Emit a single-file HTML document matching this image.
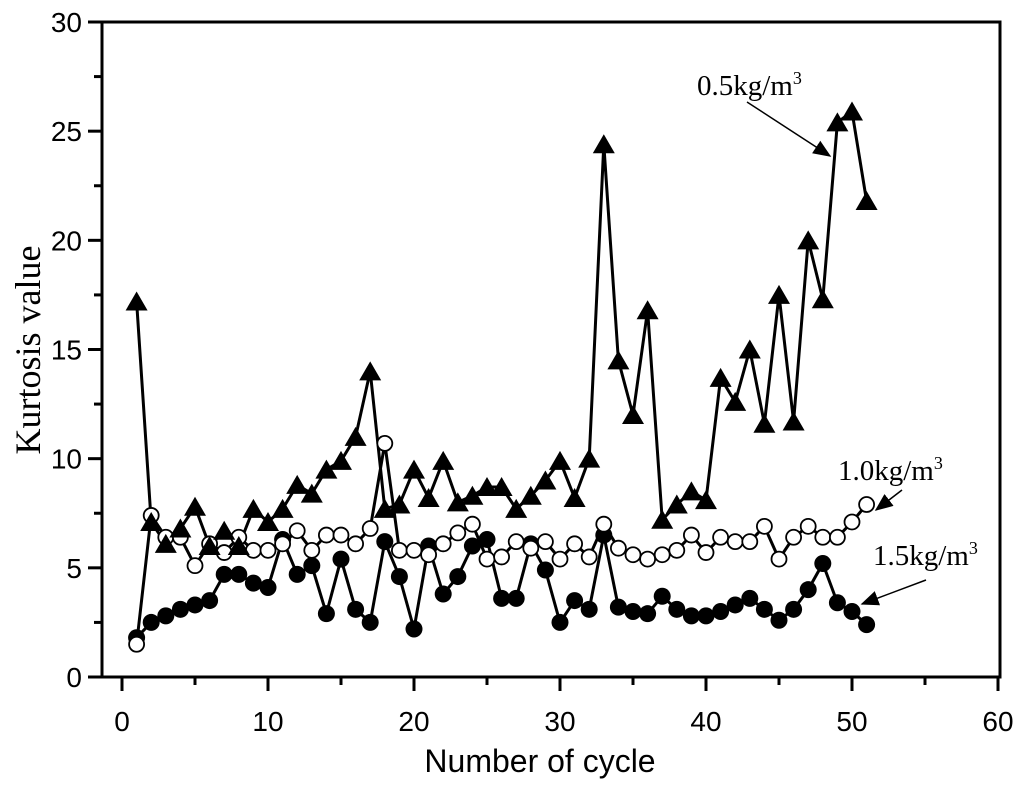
<!DOCTYPE html>
<html><head><meta charset="utf-8"><style>
html,body{margin:0;padding:0;background:#fff;}
svg{display:block;}
</style></head><body>
<svg id="chart" width="1024" height="788" viewBox="0 0 1024 788" xmlns="http://www.w3.org/2000/svg">
<defs><marker id="ah" markerWidth="12" markerHeight="10" refX="11" refY="5" orient="auto"><path d="M0,0 L12,5 L0,10 Z" fill="#000"/></marker></defs>
<g id="axes"></g>
<g id="series"></g>
<text x="540" y="772" text-anchor="middle" font-family="Liberation Sans, sans-serif" font-size="32">Number of cycle</text>
<text transform="translate(40,350) rotate(-90)" text-anchor="middle" font-family="Liberation Serif, serif" font-size="36">Kurtosis value</text>
<text x="697" y="95" font-family="Liberation Serif, serif" font-size="29">0.5kg/m<tspan dy="-11" font-size="18">3</tspan></text>
<text x="838" y="480" font-family="Liberation Serif, serif" font-size="29">1.0kg/m<tspan dy="-11" font-size="18">3</tspan></text>
<text x="873" y="565" font-family="Liberation Serif, serif" font-size="29">1.5kg/m<tspan dy="-11" font-size="18">3</tspan></text>
<line x1="747" y1="102" x2="830" y2="156" stroke="#000" stroke-width="1.5" marker-end="url(#ah)"/>
<line x1="902" y1="490" x2="876" y2="510" stroke="#000" stroke-width="1.5" marker-end="url(#ah)"/>
<line x1="926" y1="580" x2="862" y2="604" stroke="#000" stroke-width="1.5" marker-end="url(#ah)"/>
</svg>
<script>
const cycles = Array.from({length:51},(_,i)=>i+1);
const s05 = [17.2,7.1,6.1,6.8,7.8,6.0,6.7,6.0,7.7,7.1,7.7,8.8,8.4,9.5,9.9,11.0,14.0,7.7,7.9,9.5,8.2,9.9,8.0,8.3,8.7,8.7,7.7,8.3,9.0,9.9,8.2,10.0,24.4,14.5,12.0,16.8,7.2,7.9,8.5,8.1,13.7,12.6,15.0,11.6,17.5,11.7,20.0,17.3,25.4,25.9,21.8];
const s10 = [1.5,7.4,6.4,6.4,5.1,6.1,5.7,6.4,5.8,5.8,6.1,6.7,5.8,6.5,6.5,6.1,6.8,10.7,5.8,5.8,5.6,6.1,6.6,7.0,5.4,5.5,6.2,5.9,6.2,5.4,6.1,5.5,7.0,5.9,5.6,5.4,5.6,5.8,6.5,5.7,6.4,6.2,6.2,6.9,5.4,6.4,6.9,6.4,6.4,7.1,7.9];
const s15 = [1.8,2.5,2.8,3.1,3.3,3.5,4.7,4.7,4.3,4.1,6.3,4.7,5.1,2.9,5.4,3.1,2.5,6.2,4.6,2.2,6.0,3.8,4.6,6.0,6.3,3.6,3.6,6.1,4.9,2.5,3.5,3.1,6.5,3.2,3.0,2.9,3.7,3.1,2.8,2.8,3.0,3.3,3.6,3.1,2.6,3.1,4.0,5.2,3.4,3.0,2.4];
const xTicks = [0,10,20,30,40,50,60];
const yTicks = [0,5,10,15,20,25,30];
const NS='http://www.w3.org/2000/svg';
const L=102,R=1000,T=22,B=677;
const xs=v=>122+v*14.6;
const ys=v=>B-v*(B-T)/30;
function mk(tag,attrs,parent){const e=document.createElementNS(NS,tag);for(const k in attrs)e.setAttribute(k,attrs[k]);parent.appendChild(e);return e;}
const ax=document.getElementById('axes');
const frame=mk('rect',{x:L,y:T,width:R-L,height:B-T,fill:'none',stroke:'#000','stroke-width':3},ax);


for(let v=0;v<=60;v+=5){
  const t=mk('line',{x1:xs(v),x2:xs(v),y1:B,y2:B+(v%10===0?14:8),stroke:'#000','stroke-width':3},ax);
  
  
}
xTicks.forEach(v=>{const t=mk('text',{x:xs(v),y:B+54,'text-anchor':'middle','font-family':'Liberation Sans, sans-serif','font-size':28},ax);t.textContent=v;
  
  });
for(let v=0;v<=30;v+=2.5){
  const t=mk('line',{x1:L,x2:L-(v%5===0?14:8),y1:ys(v),y2:ys(v),stroke:'#000','stroke-width':3},ax);
  
  
}
yTicks.forEach(v=>{const t=mk('text',{x:L-20,y:ys(v)+10,'text-anchor':'end','font-family':'Liberation Sans, sans-serif','font-size':28},ax);t.textContent=v;
  
  });
const sg=document.getElementById('series');
function line(data,name){
  const p=mk('polyline',{points:data.map((v,i)=>xs(cycles[i])+','+ys(v)).join(' '),fill:'none',stroke:'#000','stroke-width':3},sg);
  
  
}
line(s05,'line-0-5');line(s10,'line-1-0');line(s15,'line-1-5');
s15.forEach((v,i)=>{const c=mk('circle',{cx:xs(cycles[i]),cy:ys(v),r:8.5,fill:'#000'},sg);
  
  });
s10.forEach((v,i)=>{const c=mk('circle',{cx:xs(cycles[i]),cy:ys(v),r:7.5,fill:'#fff',stroke:'#000','stroke-width':1.8},sg);
  
  });
s05.forEach((v,i)=>{const x=xs(cycles[i]),y=ys(v);const c=mk('polygon',{points:`${x},${y-10} ${x-11},${y+9} ${x+11},${y+9}`,fill:'#000'},sg);
  
  });
</script>
</body></html>
